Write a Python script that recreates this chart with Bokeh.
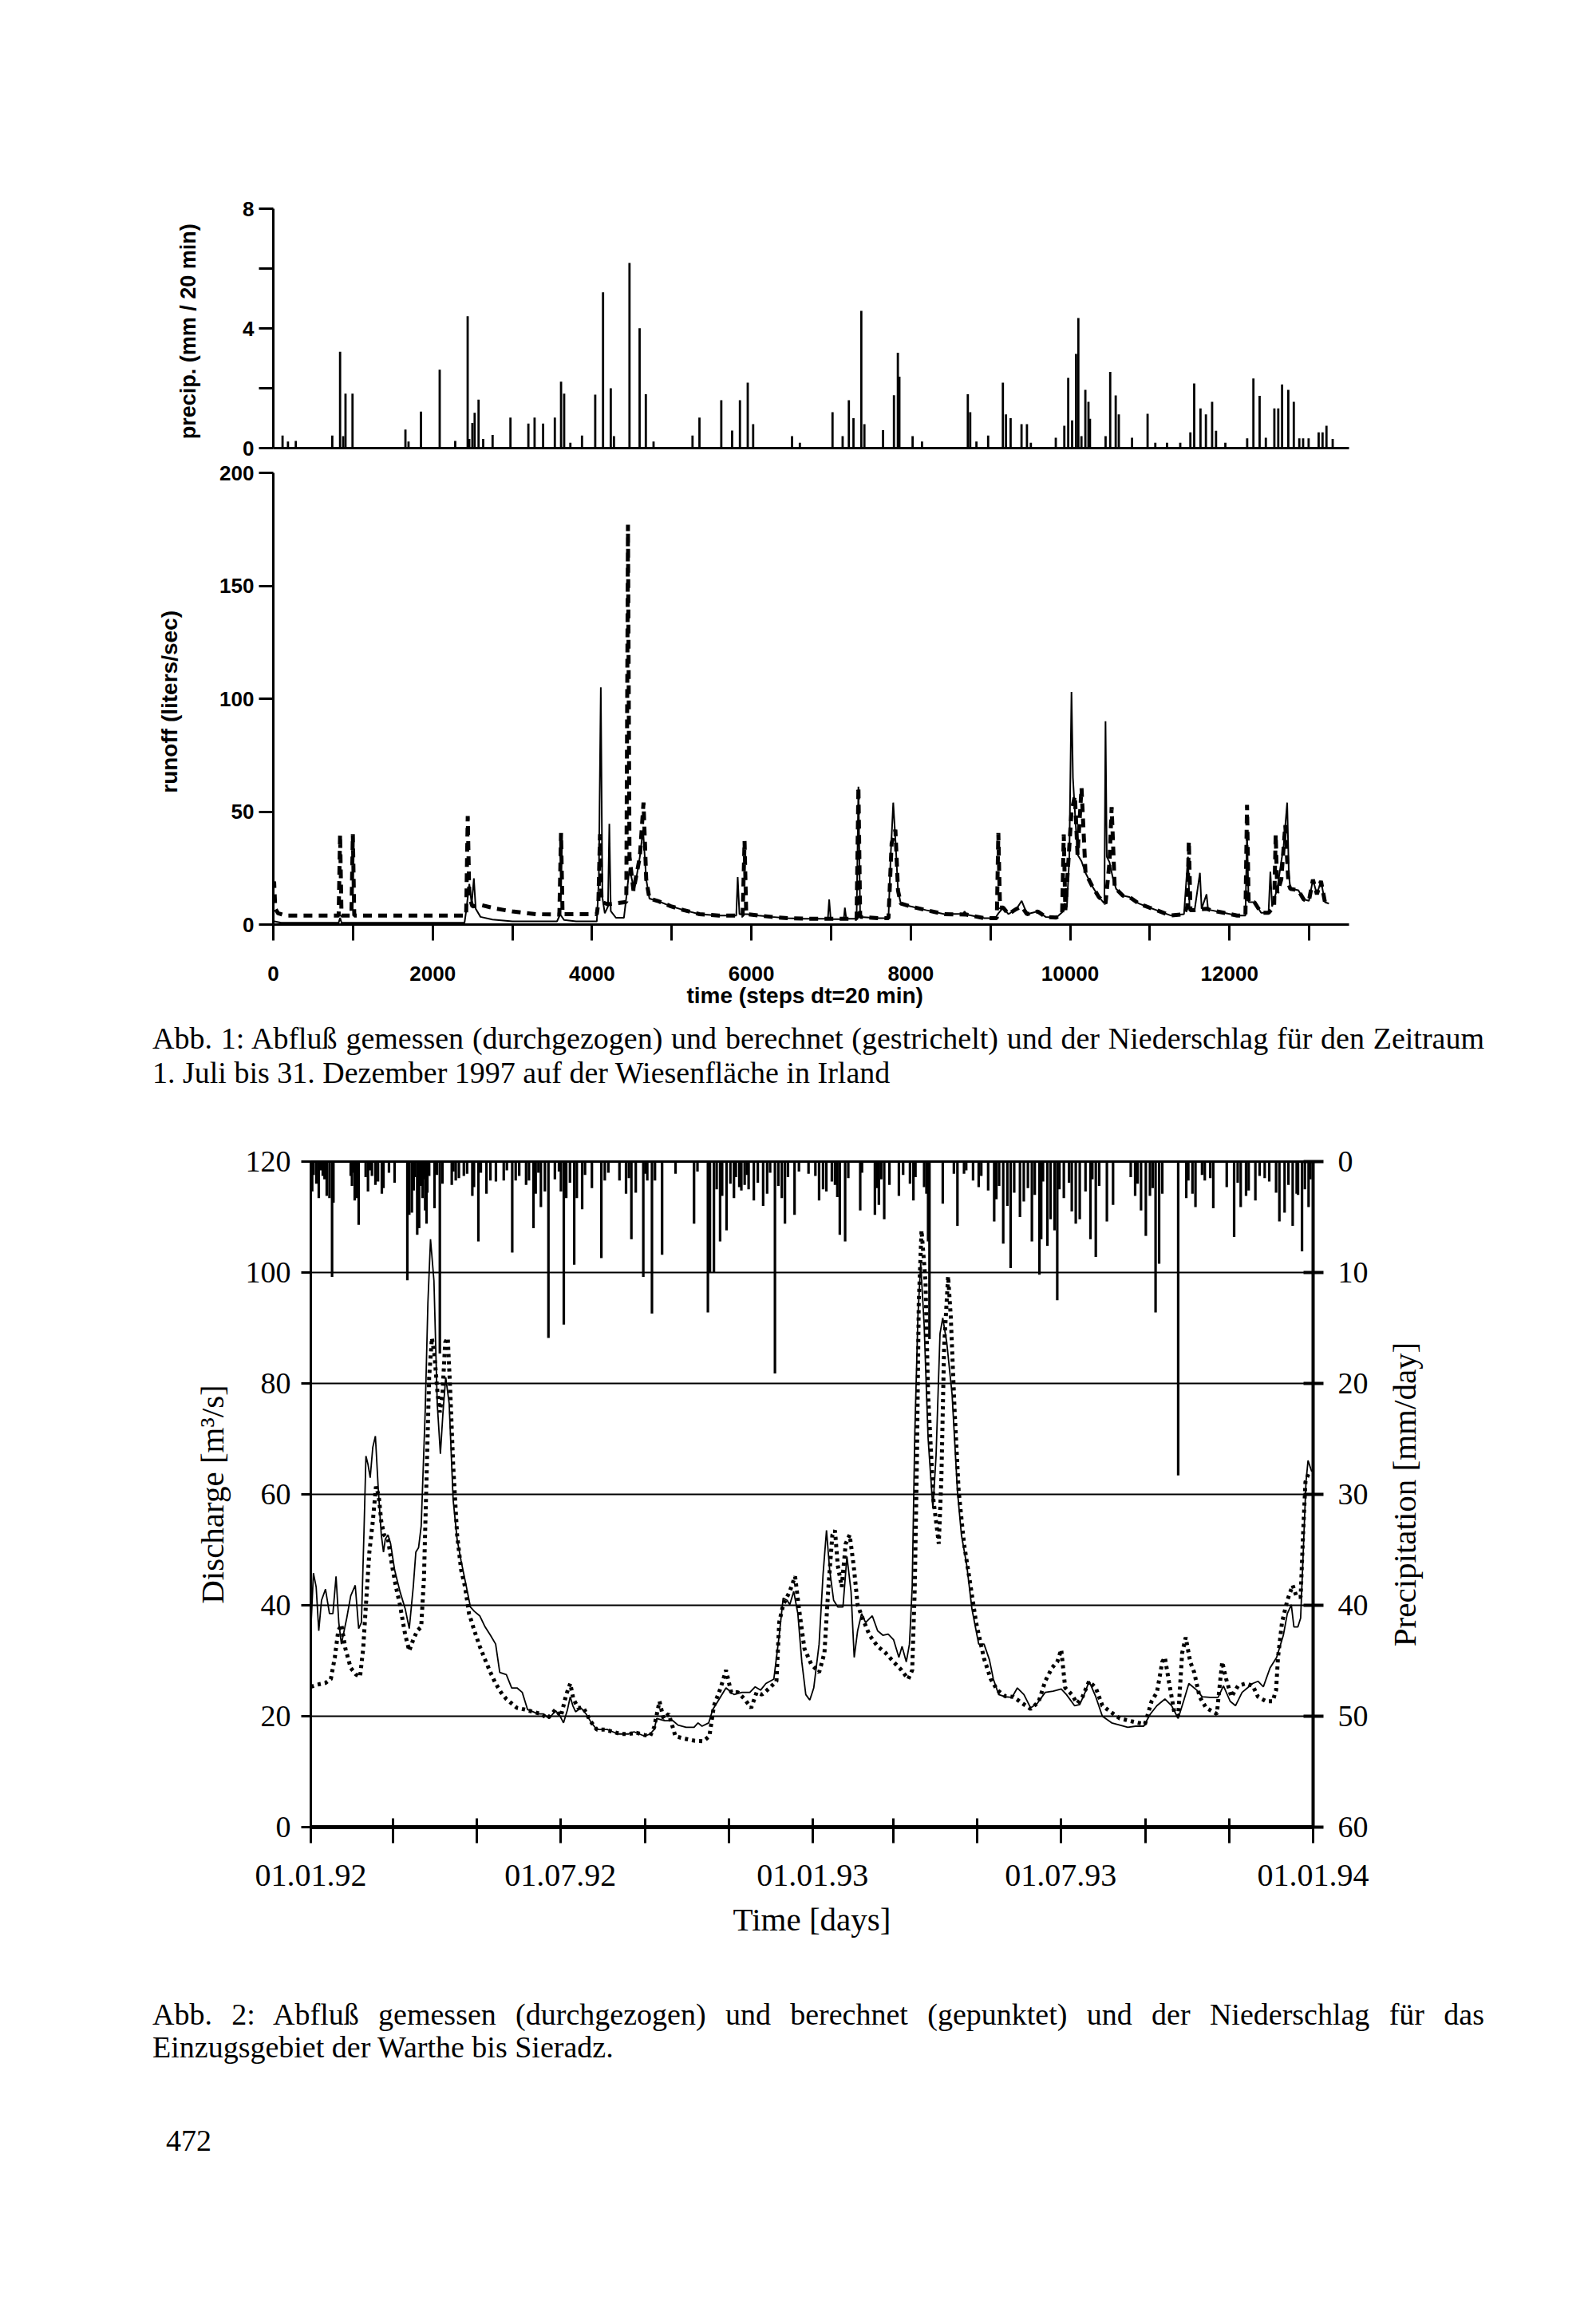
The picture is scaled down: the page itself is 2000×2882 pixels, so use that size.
from bokeh.plotting import figure
from bokeh.models import Range1d, LinearAxis, FixedTicker, Div
from bokeh.layouts import row
from bokeh.embed import file_html
from bokeh.resources import INLINE

# ---------------- Figure 1 data (time steps of 20 min) ----------------
p1_step = [116, 184, 282, 740, 838, 877, 906, 994, 1658, 1697, 1853, 2088, 2283, 2439, 2459, 2498, 2527,
           2576, 2634, 2752, 2976, 3201, 3279, 3386, 3533, 3611, 3650, 3728, 3874, 4040, 4138, 4235, 4275,
           4470, 4597, 4675, 4772, 5261, 5348, 5622, 5758, 5856, 5954, 6022, 6510, 6608, 7018, 7145, 7223,
           7281, 7379, 7418, 7652, 7789, 7838, 7857, 8023, 8141, 8716, 8746, 8824, 8971, 9156, 9195, 9253,
           9390, 9458, 9507, 9820, 9927, 9976, 10025, 10074, 10103, 10142, 10191, 10230, 10249, 10445,
           10503, 10572, 10611, 10777, 10972, 11069, 11216, 11382, 11509, 11557, 11636, 11704, 11782,
           11831, 11948, 12222, 12300, 12378, 12456, 12563, 12612, 12660, 12738, 12807, 12876, 12924,
           12993, 13119, 13168, 13217, 13295]
p1_mm = [0.42, 0.22, 0.24, 0.42, 3.22, 0.40, 1.82, 1.82, 0.62, 0.22, 1.22, 2.62, 0.24, 4.41, 0.31, 0.84, 1.18,
         1.62, 0.31, 0.44, 1.02, 0.82, 1.02, 0.82, 1.02, 2.22, 1.82, 0.18, 0.42, 1.79, 5.21, 2.0, 0.40,
         6.19, 4.01, 1.80, 0.22, 0.42, 1.02, 1.60, 0.59, 1.60, 2.19, 0.80, 0.40, 0.18, 1.20, 0.40, 1.60,
         1.0, 4.59, 0.80, 0.60, 1.77, 3.19, 2.39, 0.40, 0.22, 1.80, 1.20, 0.22, 0.42, 2.19, 1.13, 1.0,
         0.80, 0.80, 0.18, 0.35, 0.75, 2.35, 0.93, 3.15, 4.35, 0.40, 1.95, 1.55, 0.98, 0.40,
         2.55, 1.76, 1.13, 0.35, 1.15, 0.18, 0.18, 0.18, 0.53, 2.16, 1.33, 1.13, 1.55,
         0.58, 0.18, 0.33, 2.33, 1.75, 0.35, 1.33, 1.33, 2.13, 1.95, 1.55, 0.33, 0.33,
         0.33, 0.53, 0.53, 0.75, 0.31]

run_meas_step = [0, 100, 820, 838, 856, 2400, 2420, 2440, 2460, 2490, 2517, 2540, 2600, 2750, 3000, 3560, 3600,
                 3650, 3800, 4060, 4085, 4110, 4130, 4160, 4200, 4217, 4235, 4300, 4400, 4430, 4470, 4530, 4600,
                 4640, 4680, 4720, 4820, 4990, 5150, 5350, 5590, 5810, 5828, 5850, 5950, 6090, 6255, 6455, 6656,
                 6960, 6976, 6995, 7160, 7173, 7190, 7320, 7343, 7365, 7600, 7720, 7750, 7780, 7810, 7840, 7875,
                 7990, 8190, 8425, 8660, 8675, 8700, 8925, 9060, 9100, 9160, 9225, 9326, 9392, 9459, 9593, 9693,
                 9826, 9893, 9960, 9990, 10017, 10035, 10060, 10093, 10143, 10193, 10277, 10360, 10430, 10444,
                 10460, 10494, 10540, 10577, 10661, 10744, 10861, 10995, 11128, 11262, 11429, 11479, 11500,
                 11562, 11629, 11650, 11712, 11730, 11762, 11929, 12096, 12200, 12220, 12240, 12313, 12397,
                 12490, 12513, 12535, 12600, 12680, 12724, 12745, 12764, 12864, 12931, 12997, 13047, 13097,
                 13148, 13198, 13248]
run_meas = [1.5, 0.8, 0.8, 3, 0.8, 0.8, 6, 12, 18, 9, 20.5, 7, 3.4, 2.2, 1.4, 1.4, 4.5,
            2.0, 1.4, 1.4, 20, 105, 12, 5, 8, 44.6, 6, 3.0, 3.0, 12, 25, 15, 30,
            42, 20, 11.5, 10.5, 8.1, 6.4, 4.6, 4.0, 4.0, 21, 4.6, 4.6, 4.0, 3.4, 2.8, 2.6,
            2.6, 11.1, 2.4, 2.4, 7.5, 2.6, 2.6, 61, 3.4, 2.8, 2.8, 32, 54, 36, 15, 9.3,
            8.1, 6.4, 4.6, 4.8, 5.8, 4.4, 2.8, 2.8, 5, 7.5, 4.6, 6.9, 10.5, 4.6, 5.8, 3.4,
            3.1, 5.2, 8, 30, 103, 65, 50, 31, 28, 22.9, 17.0, 12.2, 9.3, 90,
            30, 27.6, 20, 15.8, 12.8, 12.2, 9.3, 7.5, 5.8, 4.0, 4.6, 30, 6,
            6.4, 22.9, 7, 13.4, 7, 6.4, 5.2, 4.0, 4.0, 40, 10, 9.9, 5.2,
            5.2, 23.4, 8, 16, 35, 54, 22, 15.8, 15.2, 11.1, 10.5, 19.9, 13.4,
            19.3, 9.9, 9.3]

run_calc_step = [0, 10, 25, 60, 150, 820, 838, 856, 980, 998, 1016, 2400, 2420, 2440, 2460, 2500, 2600, 2800,
                 3000, 3300, 3590, 3611, 3630, 4060, 4080, 4100, 4120, 4200, 4430, 4451, 4470, 4520, 4600,
                 4646, 4680, 4720, 4820, 4990, 5150, 5350, 5590, 5890, 5914, 5935, 5950, 6090, 6255, 6455,
                 6656, 6960, 7320, 7343, 7365, 7600, 7720, 7760, 7807, 7840, 7875, 7990, 8190, 8425, 8700,
                 8925, 9080, 9099, 9120, 9160, 9225, 9326, 9392, 9459, 9593, 9693, 9826, 9900, 9920, 9940,
                 10017, 10060, 10093, 10143, 10193, 10277, 10360, 10444, 10494, 10521, 10560, 10577, 10661,
                 10744, 10861, 10995, 11128, 11262, 11429, 11470, 11490, 11510, 11562, 11712, 11762, 11929,
                 12096, 12200, 12220, 12240, 12313, 12397, 12490, 12560, 12580, 12600, 12650, 12700, 12740,
                 12764, 12864, 12931, 12997, 13047, 13097, 13148, 13198, 13248]
run_calc = [18, 19, 7, 5, 4, 4, 40, 4, 4, 40, 4, 4, 4, 48, 12, 8, 8.7, 7,
            5.8, 4.6, 4.4, 40.5, 4.6, 4.6, 10, 40, 10, 9, 10, 177, 30, 15, 30,
            54, 20, 11.5, 10.5, 8.1, 6.4, 4.6, 4.0, 4.0, 37, 4.6, 4.6, 4.0, 3.4, 2.8,
            2.6, 2.6, 2.6, 61, 3.4, 2.8, 2.8, 36, 42, 15, 9.3, 8.1, 6.4, 4.6, 4.4,
            2.8, 2.8, 40.5, 7.5, 7.5, 4.6, 6.9, 8, 4.6, 5.8, 3.4, 3.1, 5.2, 39.9, 6.4,
            50, 57, 31, 60.5, 22.9, 17.0, 12.2, 9.3, 27.6, 52, 16, 15.8, 12.8,
            12.2, 9.3, 7.5, 5.8, 4.0, 4.6, 8, 37, 6.4, 6.4, 7, 6.4, 5.2,
            4.0, 4.0, 53, 10, 9.9, 5.2, 5.2, 8, 39.9, 14, 20, 44, 18,
            15.8, 15.2, 11.1, 10.5, 19.9, 13.4, 19.3, 9.9, 9.3]

x1_ticks = list(range(0, 14000, 1000))
x1_labels = {t: (str(t) if t % 2000 == 0 else "") for t in x1_ticks}

# ---------------- Figure 2 data (days since 01.01.92) ----------------
meas_day = [0, 1.9, 3.9, 5.8, 7.8, 10.7, 13.6, 16.1, 18.4, 20.4, 22.3, 26.2, 29.1, 32.4, 34.9, 36.9, 38.8,
            40.2, 41.7, 43.3, 45.2, 47.1, 49.1, 51.4, 53.0, 54.3, 56.3, 58.2, 61.1, 65.0, 68.9, 71.8, 74.7,
            76.6, 78.6, 80.5, 83.4, 85.4, 87.3, 89.8, 92.2, 94.5, 96.4, 98.4, 100.9, 103.8, 106.7, 109.6,
            113.5, 116.4, 119.3, 123.2, 127.1, 131.0, 134.8, 137.8, 142.6, 146.5, 150.4, 154.2, 158.1,
            162.0, 165.9, 169.8, 173.7, 178.5, 181.4, 184.3, 187.2, 189.2, 191.1, 193.1, 197.0, 200.8,
            204.7, 208.6, 212.5, 216.3, 220.2, 224.1, 228.0, 231.9, 235.7, 239.6, 243.5, 247.4, 250.4,
            252.3, 258.1, 264.0, 267.8, 273.7, 279.5, 282.4, 285.3, 290.2, 293.1, 296.9, 302.8, 308.6,
            314.4, 320.2, 324.1, 328.0, 331.9, 337.7, 341.6, 344.5, 347.4, 349.3, 352.2, 355.2, 358.1,
            361.0, 363.9, 366.8, 370.7, 373.6, 376.1, 378.4, 381.3, 384.3, 388.1, 391.0, 394.0, 396.3,
            398.8, 401.7, 404.6, 409.5, 413.4, 417.2, 421.1, 425.0, 428.9, 431.2, 434.3, 436.6, 438.6,
            440.5, 442.8, 444.8, 447.3, 450.2, 453.7, 456.0, 458.9, 460.9, 463.8, 467.7, 471.6, 474.5,
            478.4, 482.2, 487.1, 491.0, 494.9, 497.8, 501.7, 506.5, 511.4, 515.3, 520.1, 525.0, 529.8,
            535.6, 541.4, 547.3, 551.1, 557.0, 560.8, 564.7, 567.6, 572.5, 577.3, 584.1, 590.0, 595.8,
            601.6, 607.4, 612.3, 617.1, 622.9, 627.8, 632.6, 636.5, 640.4, 646.2, 650.1, 655.9, 661.7,
            665.6, 670.5, 674.4, 679.2, 683.1, 686.9, 690.8, 694.7, 699.6, 704.4, 709.3, 712.2, 715.1,
            717.0, 719.9, 721.9, 723.8, 725.8, 727.3, 730.0]
meas_q = [35.4, 45.8, 43.3, 35.4, 40.9, 42.9, 38.5, 38.5, 45.2, 36.9, 33.0, 37.7, 41.7, 43.6, 35.8, 36.9, 53.5,
          66.9, 65.4, 63.0, 68.5, 70.5, 61.4, 52.7, 49.6, 51.9, 52.7, 51.1, 46.4, 42.5, 39.3, 35.8, 43.3,
          49.6, 50.4, 54.3, 74.8, 94.6, 106.0, 98.5, 76.4, 67.3, 74.8, 81.1, 76.4, 59.0, 51.9, 48.0,
          43.3, 39.7, 38.9, 38.1, 36.1, 34.6, 33.0, 27.9, 27.5, 25.1, 25.1, 24.3, 21.2,
          20.8, 20.4, 20.4, 19.6, 21.0, 20.2, 18.8, 21.2, 23.5, 21.9, 20.8, 21.5, 20.4,
          18.8, 17.6, 17.6, 17.6, 17.2, 16.8, 16.8, 16.8, 17.2, 16.8, 16.4, 16.8, 17.6,
          19.6, 19.2, 19.2, 18.4, 18.0, 18.0, 18.8, 18.2, 18.8, 21.2, 22.7, 25.1, 23.9,
          24.3, 24.3, 25.3, 24.7, 25.9, 26.7, 34.6, 41.3, 40.9, 40.1, 42.5, 38.5, 29.8,
          23.9, 22.9, 25.1, 33.0, 45.6, 53.5, 46.4, 40.9, 39.7, 39.7, 48.8, 42.5, 30.6,
          35.4, 38.5, 36.9, 38.1, 35.4, 34.6, 34.8, 33.8, 30.6, 32.6, 29.8, 33.0, 43.3,
          70.9, 92.2, 101.7, 90.6, 70.1, 57.5, 66.9, 89.0, 91.8, 87.4, 78.0, 60.6, 52.7,
          47.2, 39.3, 33.0, 33.0, 30.2, 26.7, 23.9, 23.5, 23.4, 25.1, 23.9, 21.5, 22.3,
          24.3, 24.5, 24.9, 23.9, 21.9, 22.1, 24.3, 26.3, 23.5, 20.0, 18.8, 18.4, 18.0,
          18.2, 18.2, 20.4, 21.9, 23.1, 21.9, 19.6, 22.7, 25.9, 24.7, 23.5, 23.4, 23.4,
          25.5, 22.7, 21.9, 24.3, 25.1, 25.9, 26.3, 25.3, 28.7, 30.6, 34.6, 38.5, 40.1,
          36.1, 36.1, 37.7, 49.6, 62.2, 66.1, 64.1]

calc_day = [0, 4.9, 10.7, 14.6, 17.5, 20.0, 22.3, 25.2, 29.1, 33.0, 35.9, 38.2, 40.2, 42.7, 45.2, 47.5, 49.5,
            51.4, 53.4, 56.3, 59.2, 62.1, 65.0, 68.9, 71.8, 74.7, 77.6, 80.5, 82.5, 84.4, 86.3, 88.3, 90.2,
            92.2, 94.1, 96.0, 98.0, 99.9, 101.8, 103.8, 106.7, 109.6, 112.5, 115.4, 119.3, 123.2, 127.1,
            131.0, 134.8, 138.7, 142.6, 146.5, 150.4, 156.2, 162.0, 167.8, 172.7, 178.5, 182.4, 186.3,
            189.2, 191.5, 195.0, 198.9, 203.7, 208.6, 214.4, 220.2, 226.0, 231.9, 237.7, 243.5, 247.4,
            250.4, 254.3, 257.2, 261.1, 265.9, 271.7, 279.5, 286.3, 290.7, 294.0, 298.9, 302.8, 306.6,
            311.5, 316.3, 321.2, 325.1, 329.0, 332.8, 339.6, 341.6, 344.5, 349.3, 353.2, 356.1, 360.0,
            364.9, 370.7, 374.6, 377.5, 380.4, 382.3, 384.3, 387.2, 390.1, 393.0, 395.9, 398.8, 401.7,
            407.5, 413.4, 419.2, 425.0, 430.8, 435.7, 438.6, 440.5, 442.1, 443.4, 445.4, 448.3, 450.2,
            454.1, 458.0, 459.9, 461.9, 464.8, 466.7, 469.6, 472.5, 476.4, 481.3, 485.2, 491.0, 495.9,
            500.7, 506.5, 512.3, 519.1, 525.0, 530.8, 535.6, 540.5, 544.4, 547.3, 550.2, 555.0, 558.9,
            562.8, 567.6, 572.5, 577.3, 583.2, 590.0, 596.7, 603.5, 608.4, 613.2, 617.1, 621.0, 622.9,
            625.8, 629.7, 632.6, 635.5, 638.1, 641.4, 644.3, 648.2, 653.0, 657.9, 660.8, 662.7, 664.7,
            667.6, 671.4, 676.3, 682.1, 687.0, 690.8, 696.7, 701.5, 704.0, 705.4, 708.3, 712.2, 716.1,
            719.0, 721.9, 723.8, 725.4, 727.7, 729.3]
calc_q = [25.3, 25.7, 26.0, 26.7, 30.6, 35.4, 36.5, 32.2, 28.7, 27.5, 27.1, 32.2, 40.1, 49.6, 55.1, 61.4, 59.8,
          55.1, 52.7, 51.9, 47.2, 43.3, 40.1, 34.6, 31.8, 33.8, 35.4, 36.1, 44.8, 63.0, 81.1, 88.2, 85.1,
          78.8, 74.8, 78.0, 87.4, 88.2, 78.0, 65.4, 52.7, 46.4, 43.3, 38.5, 35.4, 32.6, 30.2,
          27.9, 25.9, 24.3, 23.1, 22.3, 21.5, 21.2, 20.8, 20.4, 19.6, 21.2, 20.0, 23.9,
          25.9, 23.1, 21.5, 21.5, 19.2, 17.6, 17.6, 17.2, 16.8, 16.8, 17.0, 16.6, 16.4,
          18.0, 22.7, 19.6, 20.4, 16.4, 16.0, 15.6, 15.5, 16.4, 21.9, 25.1, 28.3, 24.3,
          24.3, 23.1, 21.5, 24.3, 23.9, 24.7, 26.3, 36.9, 40.1, 42.5, 45.2, 39.3, 32.2,
          29.4, 27.9, 31.4, 43.3, 52.7, 53.5, 47.2, 43.3, 51.1, 52.7, 47.2, 40.1, 38.1,
          34.6, 32.6, 31.4, 29.8, 28.3, 26.7, 28.3, 43.3, 66.9, 94.6, 107.6, 98.5, 78.0,
          59.0, 51.1, 63.0, 86.7, 99.3, 92.2, 74.8, 60.6, 51.1, 43.3, 36.9, 30.4, 26.7,
          24.7, 23.6, 23.5, 22.3, 21.3, 22.6, 26.3, 28.7, 29.8, 32.0, 25.1, 23.9, 22.3,
          23.5, 26.3, 25.1, 21.9, 20.8, 19.6, 19.2, 18.8, 18.6, 22.7, 24.3, 29.8, 30.6,
          26.3, 20.8, 20.0, 31.4, 34.2, 29.8, 27.9, 23.5, 21.5, 20.8, 20.4, 25.1, 29.8,
          26.7, 23.5, 25.5, 25.9, 25.5, 23.5, 22.7, 22.7, 24.7, 30.6, 36.9, 40.9, 43.6,
          41.5, 41.5, 53.5, 62.2, 63.8, 64.1]

rain_day = [1.0, 5.8, 8.7, 11.6, 13.6, 15.5, 16.5, 29.1, 32.0, 33.4, 34.9, 41.7, 44.6, 47.1, 51.8, 61.1, 70.4,
            71.8, 73.7, 77.6, 79.0, 81.5, 83.4, 84.4, 86.3, 90.2, 94.1, 102.8, 105.7, 111.6, 117.8, 122.2,
            128.1, 131.0, 140.7, 146.9, 149.4, 159.1, 162.4, 164.0, 167.8, 170.7, 173.3, 182.4, 184.5,
            186.3, 192.1, 194.0, 197.9, 211.9, 214.4, 225.1, 229.9, 233.8, 242.5, 245.4, 248.8, 256.2,
            266.0, 279.5, 289.6, 291.1, 294.0, 298.5, 303.2, 308.6, 312.5, 316.4, 319.3, 323.1, 329.9,
            332.8, 338.5, 343.5, 345.8, 352.8, 363.0, 370.7, 373.6, 382.3, 385.8, 389.7, 400.7, 411.4,
            414.3, 418.2, 422.0, 428.9, 439.5, 447.3, 450.2, 451.2, 460.9, 471.6, 476.4, 487.1, 498.4,
            505.0, 510.4, 517.2, 525.9, 531.4, 532.7, 537.2, 539.5, 542.4, 544.4, 549.2, 555.0, 557.9,
            560.8, 568.6, 572.5, 580.6, 585.1, 601.2, 605.5, 609.0, 616.1, 618.7, 621.0, 632.6, 638.5,
            645.2, 652.0, 658.2, 673.4, 678.2, 682.1, 688.9, 695.7, 706.4, 710.2, 716.1, 719.0, 722.9,
            727.7]
rain_mm = [2.7, 3.3, 1.3, 3.1, 3.3, 10.4, 3.7, 1.3, 3.5, 3.3, 5.7, 2.7, 1.3, 2.1, 2.9, 1.9, 10.7,
           4.8, 4.6, 6.6, 6.0, 3.3, 4.4, 5.6, 1.3, 4.2, 17.3, 2.1, 1.7, 1.3, 3.1, 7.2,
           2.9, 1.7, 1.7, 8.2, 1.7, 1.7, 6.0, 2.9, 4.1, 2.7, 15.9, 2.7, 14.7,
           3.3, 9.3, 3.3, 4.3, 8.7, 1.7, 1.7, 2.9, 7.0, 10.4, 1.7, 13.7, 8.4,
           1.1, 5.6, 13.6, 10.0, 10.0, 7.2, 6.2, 3.3, 2.3, 2.1, 2.5, 3.5, 4.0,
           2.9, 19.1, 3.3, 5.6, 4.8, 1.1, 3.5, 2.5, 2.1, 6.6, 7.2, 4.4, 4.8,
           3.9, 5.2, 2.1, 3.1, 3.5, 2.3, 7.2, 16.0, 3.8, 5.8, 1.1, 2.3, 5.4,
           7.4, 9.6, 5.0, 7.2, 10.2, 7.0, 7.6, 5.2, 6.2, 12.5, 3.3, 4.5, 5.6,
           5.2, 7.0, 8.6, 5.4, 3.9, 3.1, 4.4, 6.7, 13.6, 9.2, 2.9, 28.3, 3.3,
           4.1, 1.7, 4.2, 6.8, 4.1, 3.1, 3.5, 1.5, 5.4, 4.6, 5.8, 2.9, 8.1,
           4.1]
# smaller daily amounts seen in the dense band under the top border
rain_small_day = [2, 4, 7, 10, 30, 31, 40, 43, 49, 53, 57, 75, 76, 78, 80, 82, 85, 92, 96, 104, 108, 114,
                  119, 124, 135, 143, 152, 157, 166, 178, 181, 189, 200, 205, 217, 232, 237, 244, 251, 282,
                  296, 300, 306, 310, 314, 318, 326, 335, 341, 348, 356, 368, 376, 380, 384, 392, 402, 413,
                  416, 432, 437, 441, 449, 469, 478, 483, 489, 494, 500, 502, 508, 513, 520, 523, 528, 534,
                  546, 553, 565, 570, 575, 598, 603, 612, 614, 640, 643, 650, 656, 668, 676, 684, 692, 699,
                  704, 713, 720, 725, 729]
rain_small_mm = [1.2, 2.0, 0.8, 1.6, 2.2, 1.0, 1.4, 0.8, 1.8, 2.4, 1.0, 2.6, 1.4, 3.0, 2.2, 1.6, 2.8, 1.2, 2.0,
                 0.9, 1.5, 1.1, 2.3, 1.0, 1.8, 0.8, 1.3, 2.1, 1.0, 1.6, 0.9, 1.9, 1.2, 2.4, 1.0, 1.5, 2.8,
                 1.1, 1.7, 0.9, 2.5, 3.1, 2.0, 1.4, 2.6, 1.2, 1.9, 1.0, 2.2, 1.4, 0.9, 1.3, 2.7, 1.8, 3.2,
                 1.5, 1.0, 2.4, 1.6, 1.2, 2.0, 1.4, 2.9, 1.1, 0.8, 1.7, 1.3, 2.6, 3.4, 2.2, 4.0, 2.8, 3.6,
                 2.4, 3.0, 1.8, 2.5, 1.9, 2.7, 1.6, 2.2, 1.4, 2.0, 3.1, 2.4, 1.7, 2.9, 1.2, 1.5, 2.3, 1.9,
                 2.6, 1.3, 1.8, 2.8, 2.1, 3.0, 2.5, 1.6]

x2_ticks = [0, 60, 121, 182, 244, 305, 366, 425, 486, 547, 609, 670, 731]
x2_names = {0: "01.01.92", 182: "01.07.92", 366: "01.01.93", 547: "01.07.93", 731: "01.01.94"}

for a, b in [(p1_step, p1_mm), (run_meas_step, run_meas), (run_calc_step, run_calc),
             (meas_day, meas_q), (calc_day, calc_q), (rain_day, rain_mm), (rain_small_day, rain_small_mm)]:
    assert len(a) == len(b), (len(a), len(b))

W = 1984
SANS = "Liberation Sans"
SERIF = "Liberation Serif"


def base_fig(width=W, **kw):
    p = figure(width=width, output_backend="svg", toolbar_location=None, **kw)
    p.grid.visible = False
    p.outline_line_color = None
    p.background_fill_color = "white"
    p.border_fill_color = "white"
    return p


def style_axis(ax, font, size, style="normal", lw=3):
    ax.axis_line_width = lw
    ax.axis_line_color = "black"
    ax.major_tick_line_width = lw
    ax.major_tick_line_color = "black"
    ax.minor_tick_line_color = None
    ax.major_label_text_font = font
    ax.major_label_text_font_size = size
    ax.major_label_text_font_style = style
    ax.major_label_text_color = "black"
    ax.axis_label_text_color = "black"


# ---------------- Figure 1a: precipitation ----------------
f1p = base_fig(height=577, x_range=Range1d(0, 13500), y_range=Range1d(0, 8),
               min_border_left=342, min_border_right=294, min_border_top=261, min_border_bottom=16)
f1p.segment(x0=p1_step, y0=0, x1=p1_step, y1=p1_mm, line_color="black", line_width=2.8)
ya = f1p.yaxis[0]
style_axis(ya, SANS, "26px", "bold")
ya.ticker = FixedTicker(ticks=[0, 2, 4, 6, 8])
ya.major_label_overrides = {2: "", 6: ""}
ya.major_tick_in = 0
ya.major_tick_out = 18
ya.major_label_standoff = 6
ya.axis_label = "precip.  (mm / 20 min)"
ya.axis_label_text_font = SANS
ya.axis_label_text_font_style = "bold"
ya.axis_label_text_font_size = "27px"
ya.axis_label_standoff = 50
xa = f1p.xaxis[0]
style_axis(xa, SANS, "1px")
xa.ticker = FixedTicker(ticks=[])
xa.major_tick_out = 0
xa.major_tick_in = 0

# ---------------- Figure 1b: runoff ----------------
f1r = base_fig(height=688, x_range=f1p.x_range, y_range=Range1d(0, 200),
               min_border_left=342, min_border_right=294, min_border_top=15, min_border_bottom=107)
f1r.line(run_calc_step, run_calc, line_color="black", line_width=5, line_dash="11 8")
f1r.line(run_meas_step, run_meas, line_color="black", line_width=2)
ya = f1r.yaxis[0]
style_axis(ya, SANS, "26px", "bold")
ya.ticker = FixedTicker(ticks=[0, 50, 100, 150, 200])
ya.major_tick_in = 0
ya.major_tick_out = 18
ya.major_label_standoff = 6
ya.axis_label = "runoff  (liters/sec)"
ya.axis_label_text_font = SANS
ya.axis_label_text_font_style = "bold"
ya.axis_label_text_font_size = "28px"
ya.axis_label_standoff = 44
xa = f1r.xaxis[0]
style_axis(xa, SANS, "26px", "bold")
xa.ticker = FixedTicker(ticks=x1_ticks)
xa.major_label_overrides = x1_labels
xa.major_tick_in = 0
xa.major_tick_out = 20
xa.major_label_standoff = 32
xa.axis_label = "time  (steps  dt=20 min)"
xa.axis_label_text_font = SANS
xa.axis_label_text_font_style = "bold"
xa.axis_label_text_font_size = "28px"
xa.axis_label_standoff = 0

cap_style = "font-family:'Liberation Serif';font-size:38px;color:#000;"
cap1 = Div(width=W, height=123, margin=0, text=(
    f'<div style="{cap_style}line-height:43px;margin-left:191px;width:1669px;padding-top:15px;">'
    '<div style="text-align:justify;text-align-last:justify;white-space:nowrap;">Abb. 1: Abfluß gemessen '
    '(durchgezogen) und berechnet (gestrichelt) und der Niederschlag für den Zeitraum</div>'
    '<div>1. Juli bis 31. Dezember 1997 auf der Wiesenfläche in Irland</div></div>'))

# ---------------- Figure 2 ----------------
W2 = 1720
f2 = base_fig(width=W2, height=1050, x_range=Range1d(0, 731), y_range=Range1d(0, 120),
              min_border_left=389, min_border_right=W2 - 389 - 1256, min_border_top=67, min_border_bottom=149)
f2.extra_y_ranges = {"precip": Range1d(60, 0)}
f2.outline_line_color = "black"
f2.outline_line_width = 3
f2.ygrid.visible = True
f2.ygrid.ticker = FixedTicker(ticks=[20, 40, 60, 80, 100])
f2.ygrid.grid_line_color = "black"
f2.ygrid.grid_line_width = 2
f2.segment(x0=rain_small_day, y0=0, x1=rain_small_day, y1=rain_small_mm, y_range_name="precip",
           line_color="black", line_width=3.2)
f2.segment(x0=rain_day, y0=0, x1=rain_day, y1=rain_mm, y_range_name="precip",
           line_color="black", line_width=3.2)
f2.line(calc_day, calc_q, line_color="black", line_width=5, line_dash="4 5")
f2.line(meas_day, meas_q, line_color="black", line_width=1.8)

ya = f2.yaxis[0]
style_axis(ya, SERIF, "38px")
ya.ticker = FixedTicker(ticks=[0, 20, 40, 60, 80, 100, 120])
ya.major_tick_in = 0
ya.major_tick_out = 12
ya.major_label_standoff = 13
ya.axis_label = "Discharge [m³/s]"
ya.axis_label_text_font = SERIF
ya.axis_label_text_font_style = "normal"
ya.axis_label_text_font_size = "41px"
ya.axis_label_standoff = 16

ra = LinearAxis(y_range_name="precip")
f2.add_layout(ra, "right")
style_axis(ra, SERIF, "38px", lw=4)
ra.ticker = FixedTicker(ticks=[0, 10, 20, 30, 40, 50, 60])
ra.major_tick_in = 12
ra.major_tick_out = 13
ra.major_label_standoff = 18

xa = f2.xaxis[0]
style_axis(xa, SERIF, "40px", lw=5)
xa.major_tick_line_width = 3
xa.ticker = FixedTicker(ticks=x2_ticks)
xa.major_label_overrides = {t: x2_names.get(t, "") for t in x2_ticks}
xa.major_tick_in = 11
xa.major_tick_out = 20
xa.major_label_standoff = 27
xa.axis_label = "Time [days]"
xa.axis_label_text_font = SERIF
xa.axis_label_text_font_style = "normal"
xa.axis_label_text_font_size = "41px"
xa.axis_label_standoff = 16

# the right-hand scale title (reads bottom-to-top, centred on the plot height) lives on the
# left axis of a narrow companion panel placed just right of the chart
f2t = base_fig(width=W - W2, height=1050, x_range=Range1d(0, 1), y_range=Range1d(0, 60),
               x_axis_location=None, min_border_left=62, min_border_right=0,
               min_border_top=67, min_border_bottom=149)
ta = f2t.yaxis[0]
ta.ticker = FixedTicker(ticks=[])
ta.axis_line_color = None
ta.major_tick_line_color = None
ta.minor_tick_line_color = None
ta.major_label_text_font_size = "1px"
ta.axis_label = "Precipitation [mm/day]"
ta.axis_label_text_font = SERIF
ta.axis_label_text_font_style = "normal"
ta.axis_label_text_font_size = "41px"
ta.axis_label_text_color = "black"
ta.axis_label_standoff = 0

cap2 = Div(width=W, height=300, margin=0, text=(
    f'<div style="{cap_style}line-height:41px;margin-left:191px;width:1669px;padding-top:66px;">'
    '<div style="text-align:justify;text-align-last:justify;white-space:nowrap;">Abb. 2: Abfluß gemessen '
    '(durchgezogen) und berechnet (gepunktet) und der Niederschlag für das</div>'
    '<div>Einzugsgebiet der Warthe bis Sieradz.</div>'
    '<div style="margin-top:76px;margin-left:17px;">472</div></div>'))

open("out.html", "w").write(file_html([f1p, f1r, cap1, row(f2, f2t, spacing=0), cap2], INLINE))
